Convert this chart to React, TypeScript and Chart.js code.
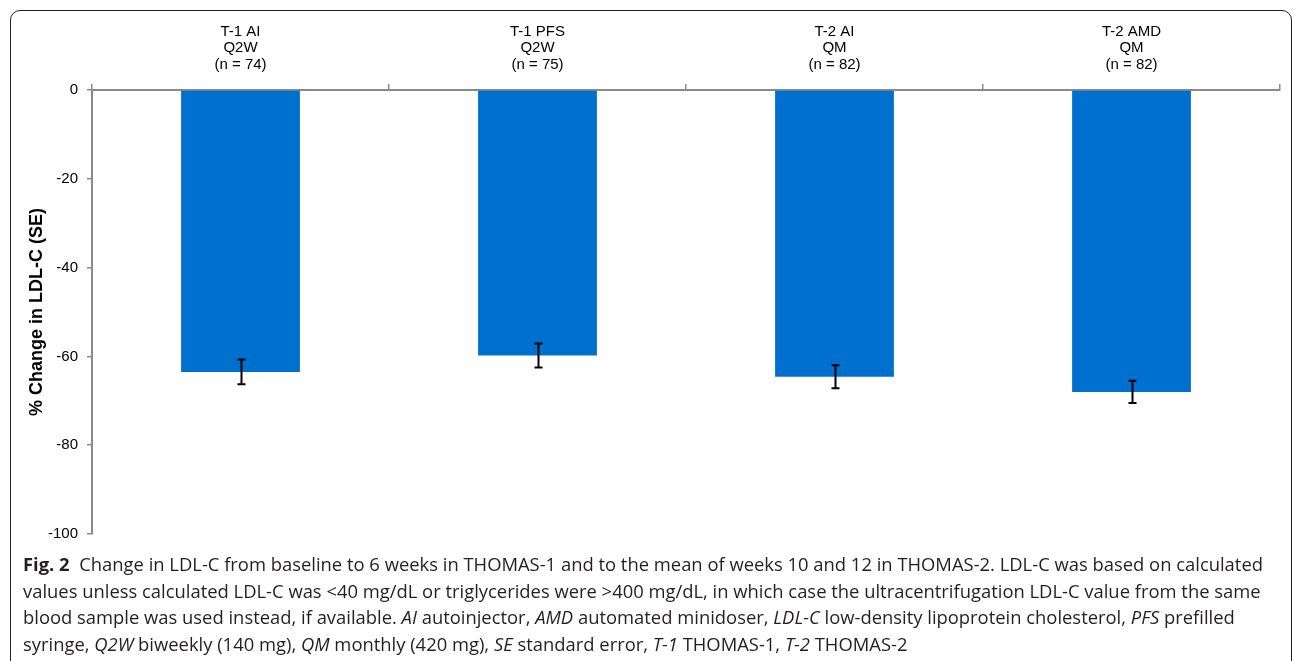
import React, { useEffect, useRef } from "react";
import { Chart, registerables } from "chart.js";

Chart.register(...registerables);

const categories: string[][] = [
  ["T-1 AI", "Q2W", "(n = 74)"],
  ["T-1 PFS", "Q2W", "(n = 75)"],
  ["T-2 AI", "QM", "(n = 82)"],
  ["T-2 AMD", "QM", "(n = 82)"],
];
const meanChange: number[] = [-63.5, -59.8, -64.6, -68.0];
const standardError: number[] = [2.8, 2.7, 2.6, 2.5];
const yTicks: number[] = [0, -20, -40, -60, -80, -100];

const BAR_COLOR = "#0070cf";
const AXIS_COLOR = "#8a8a8a";

const errorBarPlugin = {
  id: "errorBars",
  afterDatasetsDraw(chart: any) {
    const ctx = chart.ctx;
    const yScale = chart.scales.y;
    const meta = chart.getDatasetMeta(0);
    ctx.save();
    ctx.strokeStyle = "#000";
    ctx.lineWidth = 2;
    meta.data.forEach((bar: any, i: number) => {
      const v = meanChange[i];
      const se = standardError[i];
      const x = Math.round(bar.x) + 0.5;
      const yTop = yScale.getPixelForValue(v + se);
      const yBot = yScale.getPixelForValue(v - se);
      ctx.beginPath();
      ctx.moveTo(x, yTop);
      ctx.lineTo(x, yBot);
      ctx.moveTo(x - 4, yTop);
      ctx.lineTo(x + 4, yTop);
      ctx.moveTo(x - 4, yBot);
      ctx.lineTo(x + 4, yBot);
      ctx.stroke();
    });
    ctx.restore();
  },
};

const CANVAS_W = 1293;
const CANVAS_H = 552;

function BarChart() {
  const ref = useRef<HTMLCanvasElement | null>(null);
  useEffect(() => {
    if (!ref.current) return;
    const chart = new Chart(ref.current, {
      type: "bar",
      data: {
        labels: categories,
        datasets: [
          {
            data: meanChange,
            backgroundColor: BAR_COLOR,
            borderWidth: 0,
            barPercentage: 0.4,
            categoryPercentage: 1,
          },
        ],
      },
      options: {
        responsive: false,
        animation: false,
        devicePixelRatio: 1,
        layout: { padding: { left: 0, top: 0, right: 13, bottom: 6 } },
        plugins: {
          legend: { display: false },
          tooltip: { enabled: false },
        },
        scales: {
          x: {
            position: "top",
            offset: true,
            afterFit: (s: any) => {
              s.height = 90;
            },
            grid: {
              offset: true,
              drawOnChartArea: false,
              tickLength: 6,
              color: AXIS_COLOR,
              lineWidth: 1.5,
            },
            border: { color: AXIS_COLOR, width: 2 },
            ticks: {
              color: "#000",
              padding: 11,
              maxRotation: 0,
              font: { family: "'Liberation Sans', Arial, sans-serif", size: 15, lineHeight: 1.1 },
            },
          },
          y: {
            min: -100,
            max: 0,
            afterFit: (s: any) => {
              s.width = 92;
            },
            afterBuildTicks: (s: any) => {
              s.ticks = yTicks.map((v) => ({ value: v }));
            },
            grid: {
              drawOnChartArea: false,
              tickLength: 5,
              color: AXIS_COLOR,
              lineWidth: 1.5,
            },
            border: { color: AXIS_COLOR, width: 2 },
            ticks: {
              color: "#000",
              padding: 9,
              font: { family: "'Liberation Sans', Arial, sans-serif", size: 15 },
            },
            title: {
              display: true,
              text: "% Change in LDL-C (SE)",
              color: "#000",
              padding: { top: 26, bottom: 0 },
              font: { family: "'Liberation Sans', Arial, sans-serif", size: 18, weight: "bold" },
            },
          },
        },
      },
      plugins: [errorBarPlugin],
    });
    return () => chart.destroy();
  }, []);
  return (
    <canvas
      ref={ref}
      width={CANVAS_W}
      height={CANVAS_H}
      style={{ position: "absolute", left: 0, top: 0, width: CANVAS_W, height: CANVAS_H }}
    />
  );
}

const capStyle: React.CSSProperties = {
  position: "absolute",
  left: 23,
  top: 551,
  fontFamily: "'Open Sans', 'Noto Sans', sans-serif",
  fontSize: 18.4,
  lineHeight: "26.7px",
  color: "#231f20",
  whiteSpace: "nowrap",
};

export default function App() {
  useEffect(() => {
    document.body.style.margin = "0";
    document.body.style.overflow = "hidden";
  }, []);
  return (
    <div style={{ position: "relative", width: 1293, height: 661, overflow: "hidden", background: "#fff" }}>
      <div
        style={{
          position: "absolute",
          left: 10,
          top: 10,
          width: 1282,
          height: 700,
          border: "1.5px solid #222",
          borderRadius: 10,
          boxSizing: "border-box",
        }}
      />
      <BarChart />
      <div style={capStyle}>
        <div>
          <b>Fig. 2</b>&nbsp;&nbsp;Change in LDL-C from baseline to 6 weeks in THOMAS-1 and to the mean of weeks 10 and 12 in THOMAS-2. LDL-C was based on calculated
        </div>
        <div>
          values unless calculated LDL-C was &lt;40 mg/dL or triglycerides were &gt;400 mg/dL, in which case the ultracentrifugation LDL-C value from the same
        </div>
        <div>
          blood sample was used instead, if available. <i>AI</i> autoinjector, <i>AMD</i> automated minidoser, <i>LDL-C</i> low-density lipoprotein cholesterol, <i>PFS</i> prefilled
        </div>
        <div>
          syringe, <i>Q2W</i> biweekly (140 mg), <i>QM</i> monthly (420 mg), <i>SE</i> standard error, <i>T-1</i> THOMAS-1, <i>T-2</i> THOMAS-2
        </div>
      </div>
    </div>
  );
}
